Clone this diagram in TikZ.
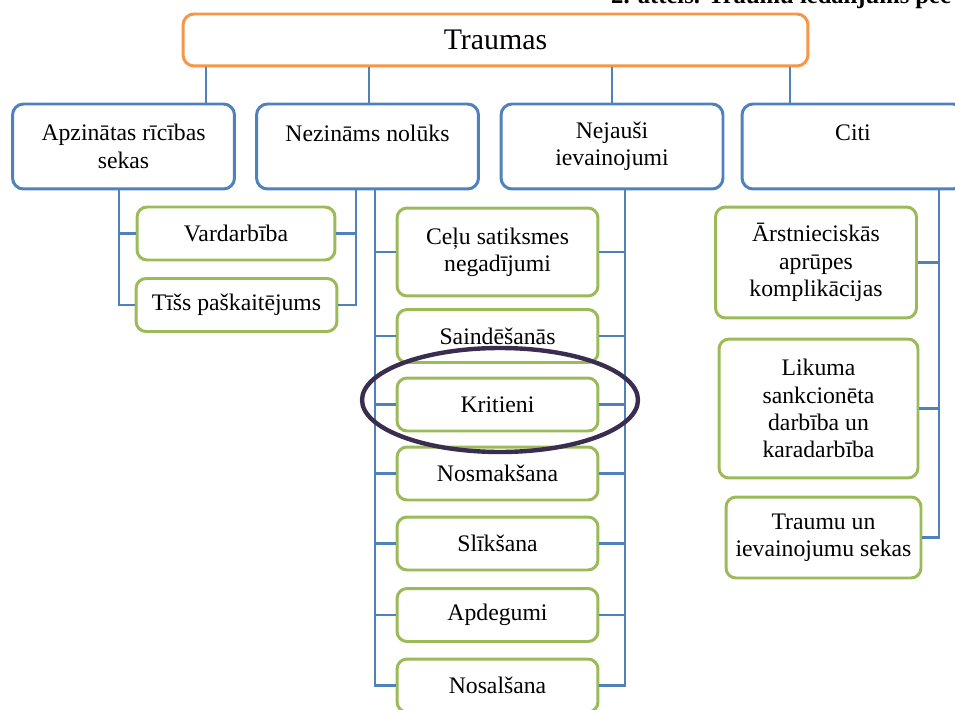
\documentclass[tikz,border=0pt]{standalone}
\usepackage{fontspec}
\setmainfont{Liberation Serif}
\definecolor{accblue}{HTML}{4F81BD}
\definecolor{accgreen}{HTML}{9BBB59}
\definecolor{accorange}{HTML}{F79646}
\definecolor{ringpurple}{HTML}{3B2D50}
\begin{document}
\begin{tikzpicture}[x=0.02cm,y=-0.02cm,
  box/.style={draw,line width=1.7pt,rounded corners=0.22cm,fill=white,align=center,inner sep=2pt,
    font=\fontsize{13.5}{15.5}\selectfont},
  topbox/.style={box,draw=accblue,minimum width=4.44cm,minimum height=1.7cm},
  subbox/.style={box,draw=accgreen,rounded corners=0.2cm,minimum width=4.02cm,minimum height=1.06cm},
  link/.style={draw=accblue,line width=1.4pt}]
\useasboundingbox (0,0) rectangle (955,709);
\node[anchor=base west,font=\bfseries\fontsize{14}{16}\selectfont] (title) at (605,4) {2. attēls. Traumu iedalījums pēc};
\node[box,draw=accorange,minimum width=12.5cm,minimum height=1.04cm,font=\fontsize{17}{20}\selectfont] (traumas) at (495.5,40) {Traumas};
\node[topbox] (apz) at (123.5,146.5) {Apzinātas rīcības\\sekas};
\node[topbox] (nez) at (367.5,146.5) {Nezināms nolūks\\\mbox{}};
\node[topbox] (nej) at (612,146.5) {Nejauši\\ievainojumi};
\node[topbox] (citi) at (853,146.5) {Citi\\\mbox{}};
\coordinate (tA) at (206,0);
\coordinate (tB) at (369,0);
\coordinate (tC) at (612,0);
\coordinate (tD) at (790,0);
\foreach \n/\t in {apz/tA,nez/tB,nej/tC,citi/tD}
  \draw[link] (traumas.south -| \t) -- (\n.north -| \t);
\node[subbox,minimum width=3.96cm] (vard) at (236,233.5) {Vardarbība};
\node[subbox] (tiss) at (236.5,305) {Tīšs paškaitējums};
\node[subbox,minimum height=1.76cm] (celu) at (497.5,252) {Ceļu satiksmes\\negadījumi};
\node[subbox] (saind) at (497.5,336) {Saindēšanās};
\node[subbox] (krit) at (497.5,404.5) {Kritieni};
\node[subbox] (nosm) at (497.5,473.5) {Nosmakšana};
\node[subbox] (slik) at (497.5,543.5) {Slīkšana};
\node[subbox] (apdeg) at (497.5,615) {Apdegumi};
\node[subbox] (nosal) at (497.5,685.5) {Nosalšana};
\node[subbox,minimum height=2.22cm] (arst) at (816,262.5) {Ārstnieciskās\\aprūpes\\komplikācijas};
\node[subbox,minimum width=3.98cm,minimum height=2.78cm] (lik) at (818.5,408.5) {Likuma\\sankcionēta\\darbība un\\karadarbība};
\node[subbox,minimum width=3.9cm,minimum height=1.62cm] (trsek) at (823.5,537.5) {Traumu un\\ievainojumu sekas};
\coordinate (bA) at (119,0);
\coordinate (bB) at (356,0);
\coordinate (bC) at (375,0);
\coordinate (bD) at (625,0);
\coordinate (bE) at (939,0);
\foreach \n in {vard,tiss} {
  \draw[link] (apz.south -| bA) |- (\n.west);
  \draw[link] (nez.south -| bB) |- (\n.east);
}
\foreach \n in {celu,saind,krit,nosm,slik,apdeg,nosal} {
  \draw[link] (nez.south -| bC) |- (\n.west);
  \draw[link] (nej.south -| bD) |- (\n.east);
}
\foreach \n in {arst,lik,trsek}
  \draw[link] (citi.south -| bE) |- (\n.east);
\draw[ringpurple,line width=2.5pt] (500,400) ellipse [x radius=2.76cm,y radius=1.04cm];
\end{tikzpicture}
\end{document}
